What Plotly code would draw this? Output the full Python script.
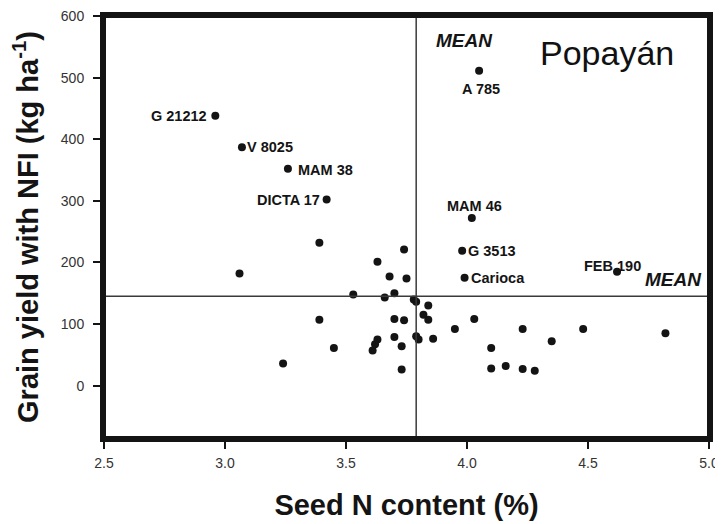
import plotly.graph_objects as go

# Unlabelled genotypes: seed N content (%) and grain yield with NFI (kg/ha)
seed_n = [3.39, 3.06, 3.53, 3.39, 3.45, 3.24, 3.74, 3.63, 3.68, 3.75,
          3.70, 3.66, 3.78, 3.79, 3.84, 3.82, 3.84, 3.70, 3.74, 3.95,
          3.70, 3.79, 3.80, 3.86, 3.63, 3.62, 3.61, 3.73, 3.73, 4.03,
          4.23, 4.48, 4.35, 4.10, 4.10, 4.16, 4.23, 4.28, 4.82]
yield_nfi = [232, 182, 148, 107, 61, 36, 221, 201, 177, 174,
             150, 143, 140, 136, 130, 115, 107, 108, 106, 92,
             79, 80, 75, 76, 75, 67, 57, 64, 26, 108,
             92, 92, 72, 61, 28, 32, 27, 24, 85]

# Labelled genotypes
lab_names = ["G 21212", "V 8025", "MAM 38", "DICTA 17", "A 785",
             "MAM 46", "G 3513", "Carioca", "FEB 190"]
lab_x = [2.96, 3.07, 3.26, 3.42, 4.05, 4.02, 3.98, 3.99, 4.62]
lab_y = [438, 387, 352, 302, 511, 272, 219, 175, 185]

mean_x = 3.79
mean_y = 145

x_ticks = [2.5, 3.0, 3.5, 4.0, 4.5, 5.0]
y_ticks = [0, 100, 200, 300, 400, 500, 600]

FONT = "Liberation Sans, Arial, sans-serif"
INK = "#141414"

fig = go.Figure()

fig.add_trace(go.Scatter(
    x=seed_n + lab_x, y=yield_nfi + lab_y, mode="markers",
    marker=dict(size=8, color=INK), showlegend=False, hoverinfo="skip"))

# Mean lines
fig.add_shape(type="line", xref="x", yref="paper", x0=mean_x, x1=mean_x,
              y0=0, y1=1, line=dict(color="#3a3a3a", width=1.5))
fig.add_shape(type="line", xref="paper", yref="y", x0=0, x1=1,
              y0=mean_y, y1=mean_y, line=dict(color="#3a3a3a", width=1.5))
# Heavy frame
fig.add_shape(type="rect", xref="paper", yref="paper", x0=0, x1=1, y0=0, y1=1,
              line=dict(color=INK, width=4))

# label placement: (xanchor, xshift, yshift)
place = {
    "G 21212": ("right", -6, 0),
    "V 8025": ("left", 3, 0),
    "MAM 38": ("left", 8, -1),
    "DICTA 17": ("right", -5, 0),
    "A 785": ("center", 2, -18),
    "MAM 46": ("center", 3, 12),
    "G 3513": ("left", 4, 0),
    "Carioca": ("left", 4, 0),
    "FEB 190": ("center", -5, 6),
}
for name, xv, yv in zip(lab_names, lab_x, lab_y):
    xa, xs, ys = place[name]
    fig.add_annotation(x=xv, y=yv, xref="x", yref="y", text=f"<b>{name}</b>",
                       showarrow=False, xanchor=xa, yanchor="middle",
                       xshift=xs, yshift=ys,
                       font=dict(family=FONT, size=14.5, color=INK))

fig.add_annotation(x=mean_x, y=1, xref="x", yref="paper", text="<b><i>MEAN</i></b>",
                   showarrow=False, xanchor="left", yanchor="top", xshift=18, yshift=-12,
                   font=dict(family=FONT, size=19, color=INK))
fig.add_annotation(x=1, y=mean_y, xref="paper", yref="y", text="<b><i>MEAN</i></b>",
                   showarrow=False, xanchor="right", yanchor="middle", xshift=-5, yshift=17,
                   font=dict(family=FONT, size=19, color=INK))
fig.add_annotation(x=0.832, y=0.912, xref="paper", yref="paper", text="Popayán",
                   showarrow=False, xanchor="center", yanchor="middle",
                   font=dict(family=FONT, size=34, color="#111111"))

axis_common = dict(showline=True, linewidth=4, linecolor=INK, mirror=True,
                   ticks="outside", ticklen=7, tickwidth=2, tickcolor=INK,
                   showgrid=False, zeroline=False, automargin=False,
                   ticklabeloverflow="allow",
                   tickfont=dict(family=FONT, size=14, color="#333333"))

fig.update_xaxes(range=[2.5, 5.0], tickvals=x_ticks,
                 ticktext=[f"{v:.1f}" for v in x_ticks], ticklabelstandoff=2,
                 title=dict(text="<b>Seed N content (%)</b>", standoff=26,
                            font=dict(family=FONT, size=29, color=INK)),
                 **axis_common)
fig.update_yaxes(range=[-85, 600], tickvals=y_ticks, ticklabelstandoff=6,
                 title=dict(text="<b>Grain yield with NFI (kg ha<sup>-1</sup>)</b>", standoff=20,
                            font=dict(family=FONT, size=29, color=INK)),
                 **axis_common)

# The page body has an 8px margin, so the figure is sized to fit the window
fig.update_layout(width=715, height=516, margin=dict(l=96, r=14, t=8, b=86),
                  paper_bgcolor="white", plot_bgcolor="white")

fig.write_html("out.html")
